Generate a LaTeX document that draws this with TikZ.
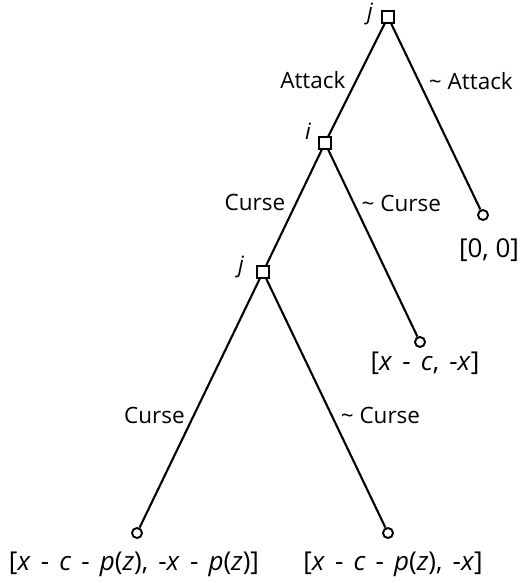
\documentclass[tikz,border=0pt]{standalone}
\usepackage{fontspec}
\setmainfont{Open Sans}
\usetikzlibrary{positioning}
\newcommand{\payfont}{\fontsize{26}{30}\selectfont\spaceskip=0.39em\relax}

\begin{document}
\begin{tikzpicture}[
  x=1pt, y=-1pt,
  every node/.style={font=\fontsize{22.5}{26}\selectfont},
  choice/.style={draw, line width=1.9pt, rectangle, inner sep=0pt, minimum size=11.5pt, fill=white},
  leaf/.style={draw, line width=1.9pt, circle, inner sep=0pt, minimum size=10pt, fill=white},
  move/.style={line width=2.1pt},
  elab/.style={inner sep=0pt},
  plab/.style={font=\fontsize{22.5}{26}\selectfont\itshape, inner sep=0pt},
  pay/.style={inner sep=0pt, font=\payfont}
]
\useasboundingbox (0,0) rectangle (521,583);

% decision nodes
\node[choice] (rootj) at (388,17) {};
\node[choice] (nodei) at (325,143) {};
\node[choice] (nodej) at (263,272) {};

% end nodes
\node[leaf] (endnone) at (483,215) {};
\node[leaf] (endcurse) at (420,342) {};
\node[leaf] (endboth) at (137,533) {};
\node[leaf] (endone) at (388,533) {};

% who moves
\node[plab] at (370,14) {j};
\node[plab] at (308,131) {i};
\node[plab] at (241,267) {j};

% branches
\draw[move] (rootj) -- node[elab, pos=.5, left=10pt] {Attack} (nodei);
\draw[move] (rootj) -- node[elab, pos=.31, right=9pt] {\textasciitilde{} Attack} (endnone);
\draw[move] (nodei) -- node[elab, pos=.46, left=10pt] {Curse} (nodej);
\draw[move] (nodei) -- node[elab, pos=.285, right=7pt] {\textasciitilde{} Curse} (endcurse);
\draw[move] (nodej) -- node[elab, pos=.55, left=8pt] {Curse} (endboth);
\draw[move] (nodej) -- node[elab, pos=.55, right=8pt] {\textasciitilde{} Curse} (endone);

% pay-offs
\node[pay, below=17pt of endnone, xshift=6pt] (paynone) {\spaceskip=0pt [0, 0]};
\node[pay, below=4pt of endcurse, xshift=5pt] (paycurse) {[\textit{x} - \textit{c}, -\textit{x}]};
\node[pay, below=13pt of endboth, xshift=-3pt] (payboth) {[\textit{x} - \textit{c} - \textit{p}(\textit{z}), -\textit{x} - \textit{p}(\textit{z})]};
\node[pay, below=13pt of endone, xshift=5pt] (payone) {[\textit{x} - \textit{c} - \textit{p}(\textit{z}), -\textit{x}]};

\end{tikzpicture}
\end{document}
